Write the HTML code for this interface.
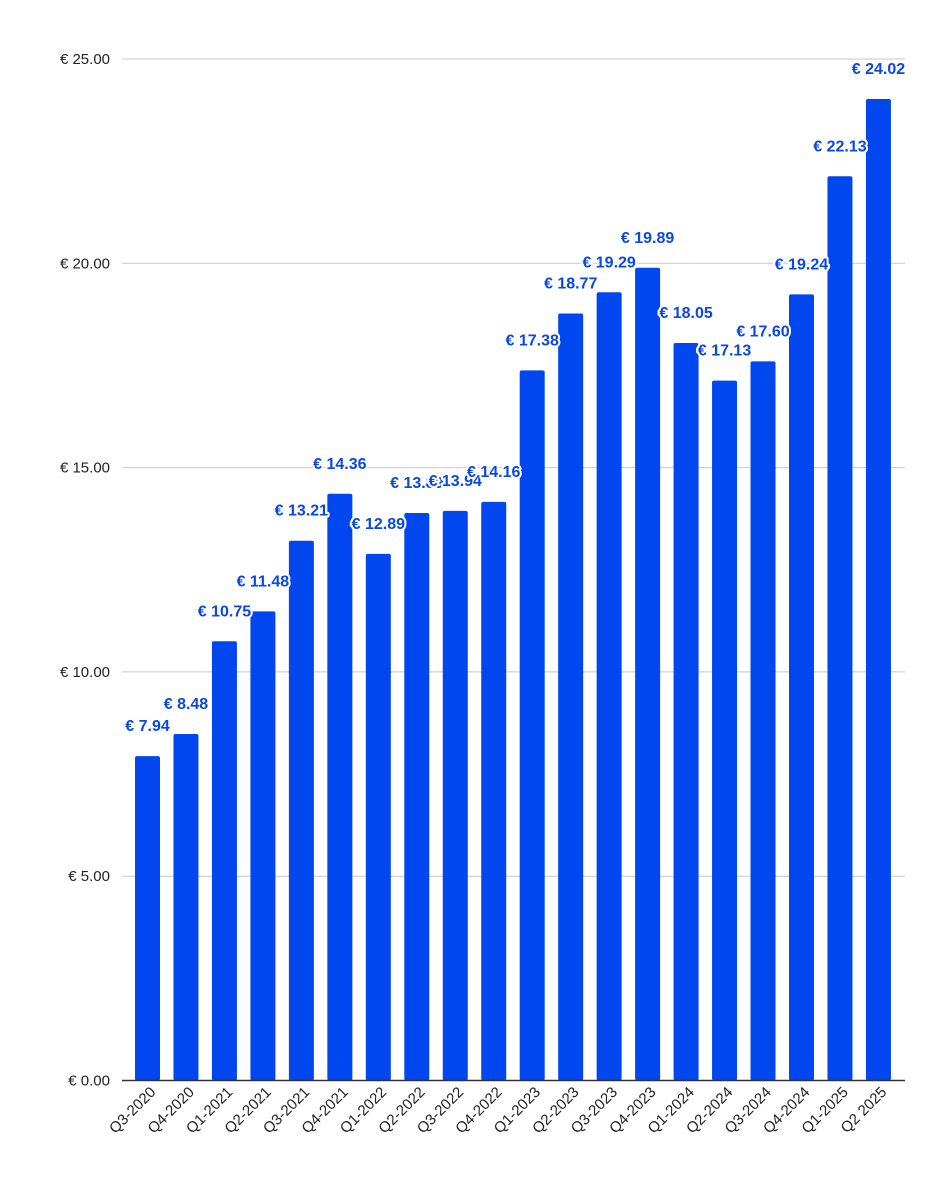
<!DOCTYPE html>
<html><head><meta charset="utf-8"><style>
body{margin:0;background:#fff}
svg{display:block;font-family:"Liberation Sans",Arial,sans-serif}
.vl{font-weight:bold;font-size:16px;fill:#0a47e8;stroke:#fff;stroke-width:4px;paint-order:stroke;stroke-linejoin:round}
</style></head><body>
<svg id="chart" width="952" height="1200" viewBox="0 0 952 1200"></svg>
<script>
const categories=["Q3-2020","Q4-2020","Q1-2021","Q2-2021","Q3-2021","Q4-2021","Q1-2022","Q2-2022","Q3-2022","Q4-2022","Q1-2023","Q2-2023","Q3-2023","Q4-2023","Q1-2024","Q2-2024","Q3-2024","Q4-2024","Q1-2025","Q2 2025"];
const values=[7.94,8.48,10.75,11.48,13.21,14.36,12.89,13.89,13.94,14.16,17.38,18.77,19.29,19.89,18.05,17.13,17.60,19.24,22.13,24.02];
const yTicks=[0,5,10,15,20,25];
const yTickLabels=["€ 0.00","€ 5.00","€ 10.00","€ 15.00","€ 20.00","€ 25.00"];
const NS="http://www.w3.org/2000/svg";
const svg=document.getElementById('chart');
const y0=1080.5,yTop=59,left=122,right=905;
const y=v=>y0-(v/25)*(y0-yTop);
const step=38.47,first=147.5,bw=25;
const x=i=>first+i*step;
function mk(t,a){const e=document.createElementNS(NS,t);for(const k in a)e.setAttribute(k,a[k]);svg.appendChild(e);return e;}
yTicks.forEach((t,i)=>{
  if(t>0){const g=mk('line',{x1:left,x2:right,y1:y(t),y2:y(t),stroke:'#c8c8c8','stroke-width':1});
  
  }
  const tx=mk('text',{x:110,y:y(t)+5,'text-anchor':'end','font-size':'15px',fill:'#222'});
  tx.textContent=yTickLabels[i];
  
  
});
values.forEach((v,i)=>{
  const r=mk('rect',{x:x(i)-bw/2,y:y(v),width:bw,height:y0-y(v),rx:2,fill:'#0047f0'});
  
  
});
values.forEach((v,i)=>{
  const t=mk('text',{x:x(i),y:y(v)-25,'text-anchor':'middle',class:'vl'});
  t.textContent='€ '+v.toFixed(2);
  
  
});
const ax=mk('line',{x1:left,x2:right,y1:y0,y2:y0,stroke:'#333','stroke-width':1.5});


categories.forEach((c,i)=>{
  const px=x(i)+9,py=1093;
  const t=mk('text',{x:px,y:py,'text-anchor':'end','font-size':'15px',fill:'#222',transform:`rotate(-45 ${px} ${py})`});
  t.textContent=c;
  
  
});
</script>
</body></html>
